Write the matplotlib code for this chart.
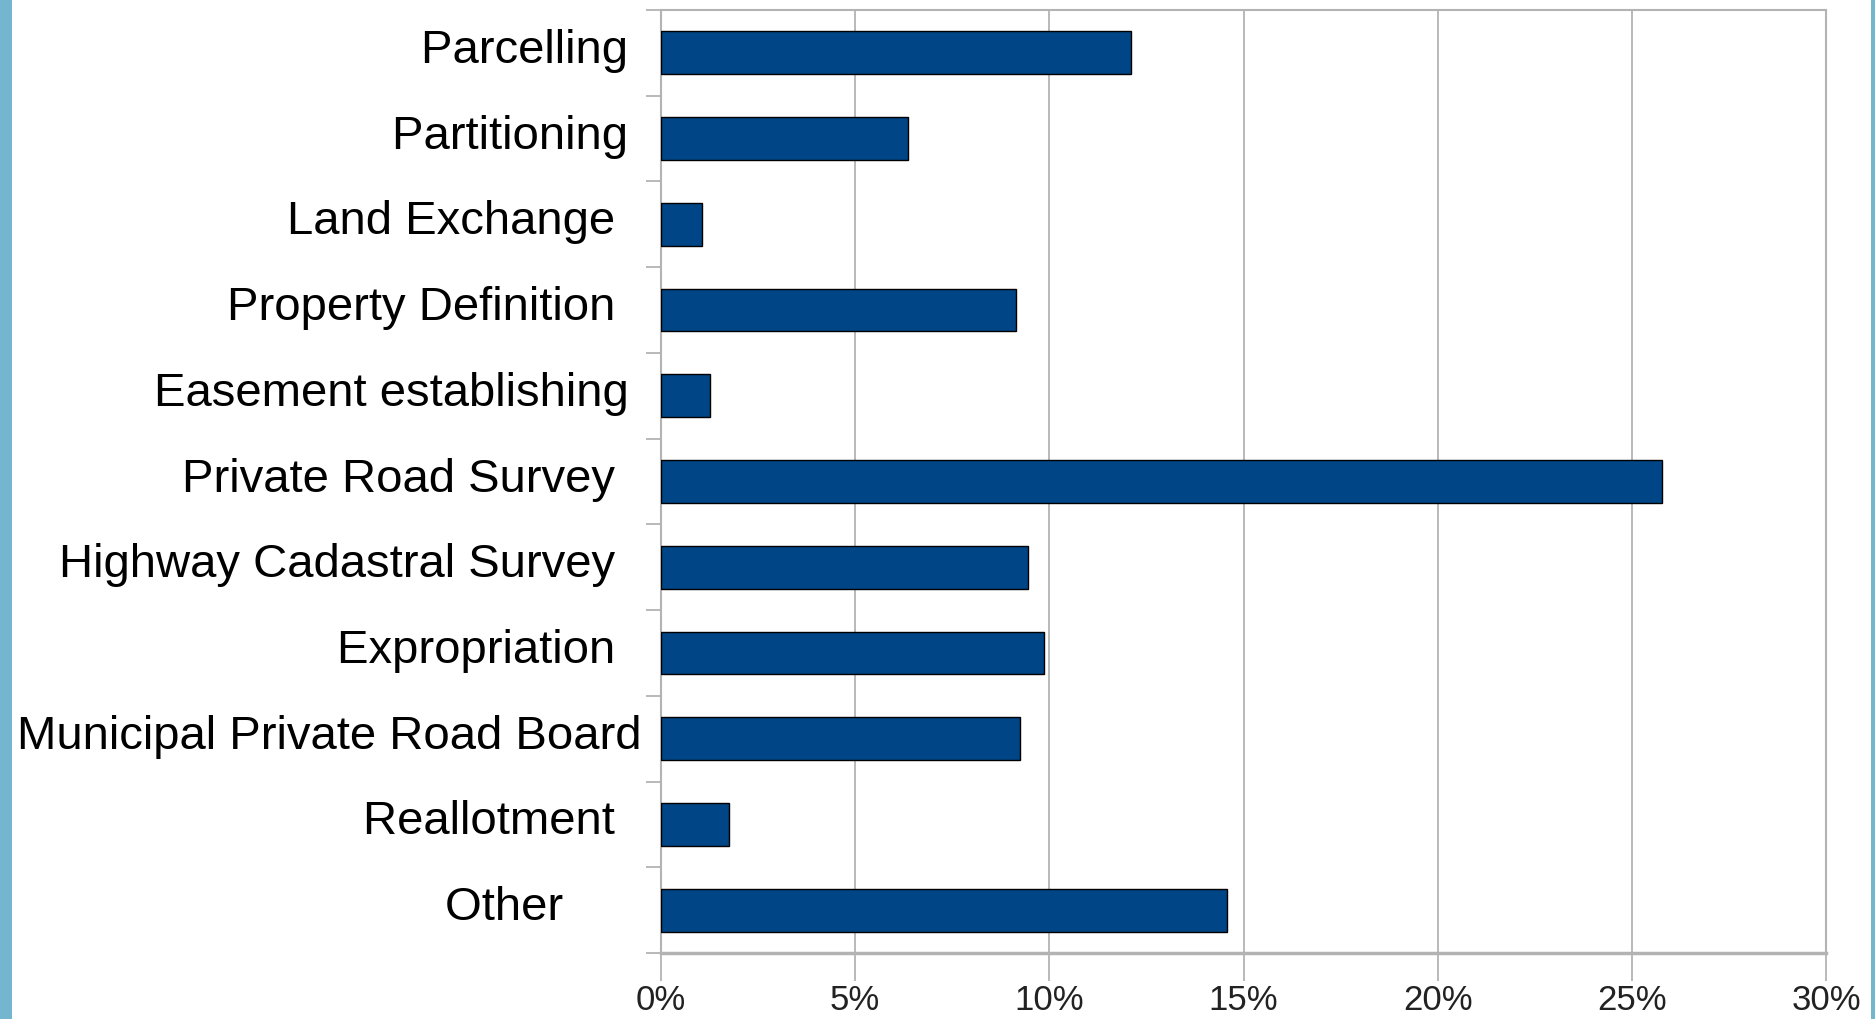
import matplotlib
matplotlib.use("Agg")
import matplotlib.pyplot as plt
from matplotlib.patches import Rectangle
import matplotlib.transforms as mtransforms
import numpy as np

categories = ["Parcelling", "Partitioning", "Land Exchange", "Property Definition",
              "Easement establishing", "Private Road Survey", "Highway Cadastral Survey",
              "Expropriation", "Municipal Private Road Board", "Reallotment", "Other"]
values = [12.1, 6.37, 1.05, 9.15, 1.26, 25.78, 9.45, 9.86, 9.24, 1.76, 14.57]
label_trailing = [1, 1, 2, 2, 1, 2, 2, 2, 0, 2, 6]
xticks = [0, 5, 10, 15, 20, 25, 30]
xticklabels = ["0%", "5%", "10%", "15%", "20%", "25%", "30%"]

plt.rcParams['font.family'] = ['Liberation Sans', 'DejaVu Sans']

W, H = 1875, 1019
fig = plt.figure(figsize=(W / 100, H / 100), dpi=100)
fig.patch.set_facecolor("white")

# side strips
fig.patches.append(Rectangle((0, 0), 12 / W, 1, transform=fig.transFigure,
                             facecolor="#74b6cf", edgecolor="none", zorder=0))
fig.patches.append(Rectangle((1 - 4 / W, 0), 4 / W, 1, transform=fig.transFigure,
                             facecolor="#74b6cf", edgecolor="none", zorder=0))

left, right, top, bottom = 661, 1826, 10, 953
ax = fig.add_axes([left / W, 1 - bottom / H, (right - left) / W, (bottom - top) / H])

n = len(categories)
y = np.arange(n)
grid_c = "#b3b3b3"
ax.barh(y, values, height=0.5, color="#004586", edgecolor="black", linewidth=1.0, zorder=3)

ax.set_xlim(0, 30)
ax.set_ylim(n - 0.5, -0.5)
ax.set_xticks(xticks)
ax.set_xticklabels(xticklabels, fontsize=25, color="#222222")
ax.xaxis.grid(True, color=grid_c, linewidth=1.3, zorder=0)
ax.tick_params(axis="x", length=20, width=1.3, color=grid_c, pad=2)

ax.set_yticks(np.arange(n + 1) - 0.5)
ax.set_yticklabels([])
ax.tick_params(axis="y", which="major", length=11, width=1.3, color=grid_c)
ax.set_yticks(y, minor=True)
ax.set_yticklabels([c + " " * k for c, k in zip(categories, label_trailing)],
                   minor=True, fontsize=34, color="black")
ax.tick_params(axis="y", which="minor", length=0, pad=14)
shift = mtransforms.ScaledTranslation(0, 5 / 72, fig.dpi_scale_trans)
for lbl in ax.get_yticklabels(minor=True):
    lbl.set_transform(lbl.get_transform() + shift)

for s in ax.spines.values():
    s.set_color(grid_c)
    s.set_linewidth(1.5)
ax.spines["bottom"].set_linewidth(2.5)

fig.savefig("out.png", dpi=100)
